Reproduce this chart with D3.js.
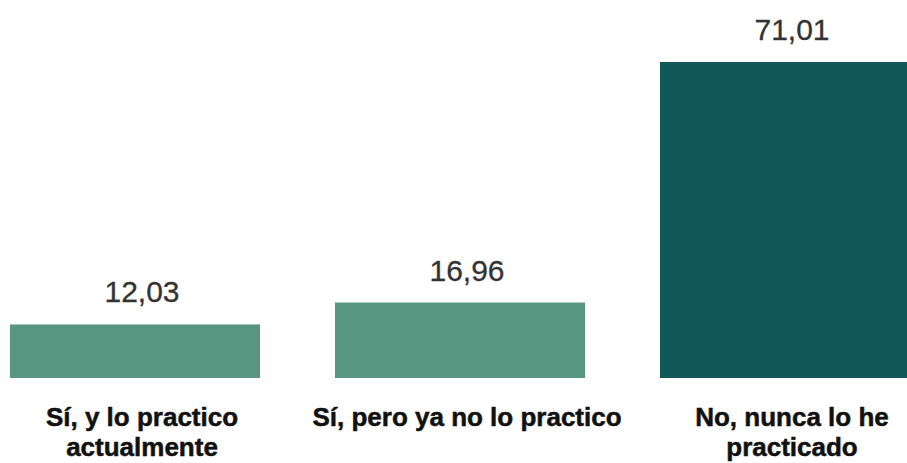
<!DOCTYPE html>
<html>
<head>
<meta charset="utf-8">
<script src="https://cdn.jsdelivr.net/npm/d3@7"></script>
<style>
  html, body { margin: 0; padding: 0; background: #ffffff; }
  svg { display: block; }
</style>
</head>
<body>
<svg id="chart" width="907" height="463"></svg>
<script>
// Survey answers and their shares (%)
const categories = ["Sí, y lo practico actualmente", "Sí, pero ya no lo practico", "No, nunca lo he practicado"];
const labelLines = [["Sí, y lo practico", "actualmente"], ["Sí, pero ya no lo practico"], ["No, nunca lo he", "practicado"]];
const values = [12.03, 16.96, 71.01];
const barColors = ["#589682", "#589682", "#12585a"];

const svg = d3.select("#chart");
const baseY = 378;

const x = d3.scaleBand()
  .domain(categories)
  .range([10, 910])
  .paddingInner(75 / 325)
  .paddingOuter(0);

const y = d3.scaleLinear()
  .domain([0, 80])
  .range([baseY, baseY - 356]);

const fmt = v => d3.format(".2f")(v).replace(".", ",");

const data = categories.map((c, i) => ({ c, v: values[i], color: barColors[i], lines: labelLines[i] }));
const labelX = d => x(d.c) + x.bandwidth() / 2 + 7;

// Bars
svg.selectAll("rect.bar")
  .data(data)
  .join("rect")
  .attr("class", "bar")
  .attr("x", d => x(d.c))
  .attr("y", d => y(d.v))
  .attr("width", x.bandwidth())
  .attr("height", d => y(0) - y(d.v))
  .attr("fill", d => d.color);

// Value labels above bars
svg.selectAll("text.val")
  .data(data)
  .join("text")
  .attr("class", "val")
  .attr("x", labelX)
  .attr("y", d => y(d.v) - 22)
  .attr("text-anchor", "middle")
  .attr("font-family", "'Liberation Sans', Arial, sans-serif")
  .attr("font-size", 30)
  .attr("fill", "#333333")
  .attr("stroke", "#333333")
  .attr("stroke-width", 0.3)
  .text(d => fmt(d.v));

// Category labels under the bars
const cat = svg.selectAll("text.cat")
  .data(data)
  .join("text")
  .attr("class", "cat")
  .attr("text-anchor", "middle")
  .attr("font-family", "'Liberation Sans', Arial, sans-serif")
  .attr("font-weight", "bold")
  .attr("font-size", 26)
  .attr("fill", "#111111")
  .attr("stroke", "#111111")
  .attr("stroke-width", 0.5);

cat.selectAll("tspan")
  .data(d => d.lines.map(l => ({ l, cx: labelX(d) })))
  .join("tspan")
  .attr("x", t => t.cx)
  .attr("y", (t, i) => 426 + i * 30)
  .text(t => t.l);
</script>
</body>
</html>
